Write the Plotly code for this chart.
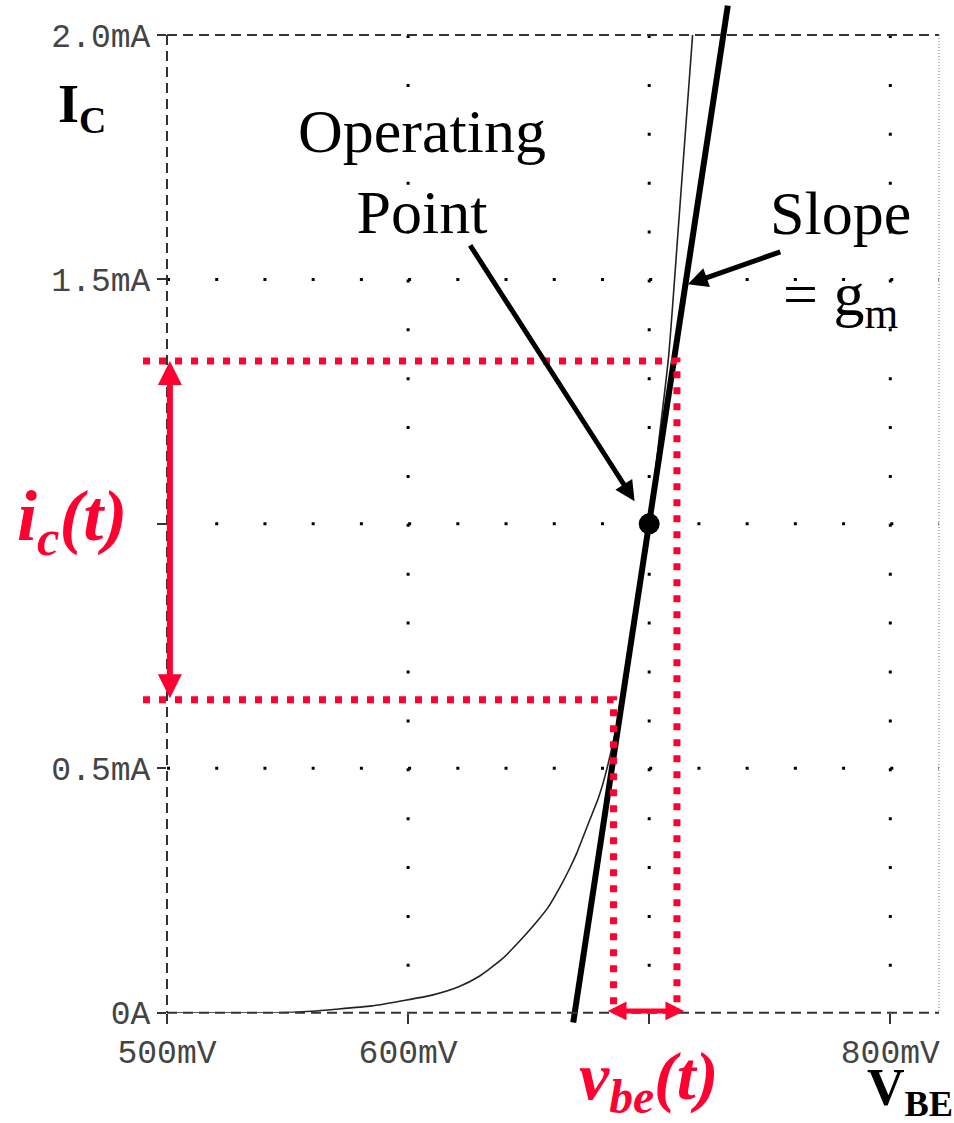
import plotly.graph_objects as go

# Collector current vs. base-emitter voltage of a BJT (simulated sweep)
vbe_mv = [500, 545, 560, 570, 585, 597, 610, 621, 629, 639, 646, 653, 658, 663, 667, 670,
          675, 679, 682, 687, 693, 700, 704, 708, 712, 715, 718]
ic_ma = [0, 0, 0.003, 0.007, 0.014, 0.024, 0.036, 0.053, 0.073, 0.11, 0.145, 0.184, 0.215,
         0.257, 0.295, 0.327, 0.39, 0.44, 0.49, 0.60, 0.76, 1.0, 1.17, 1.34, 1.6, 1.8, 2.0]

# Quiescent (operating) point
op_vbe = [700.0]
op_ic = [1.0]

# Tangent through the operating point (slope = gm)
tangent_vbe = [668.5, 732.6]
tangent_ic = [-0.02, 2.06]

# Small-signal swing around the operating point
ic_swing = [0.640, 1.333]
vbe_swing = [685.2, 711.5]

# Axis ticks
x_ticks = [500, 600, 700, 800]
x_labels = ["500mV", "600mV", "", "800mV"]
y_ticks = [0, 0.5, 1.0, 1.5, 2.0]
y_labels = ["0A", "0.5mA", "", "1.5mA", "2.0mA"]

# Dotted grid lines
grid_v = [600, 700, 800]
grid_i = [0.5, 1.0, 1.5]

W, H = 954, 1123
PL, PR, PT, PB = 167, 939, 35, 1012.7
X_RANGE = [500, 820.2]
Y_RANGE = [0, 2.0]
RED = "#ff0030"
MONO = "Liberation Mono"
SERIF = "Liberation Serif"

x_dom = [PL / W, PR / W]
y_dom = [1 - PB / H, 1 - PT / H]


def extend(rng, dom):
    span = (rng[1] - rng[0]) / (dom[1] - dom[0])
    return [rng[0] - dom[0] * span, rng[1] + (1 - dom[1]) * span]


def paper(px, py):
    return px / W, 1 - py / H


# pixel period of the grid dots
dot = 3
step_i = 0.1 / (Y_RANGE[1] - Y_RANGE[0]) * (PB - PT)
step_v = 20 / (X_RANGE[1] - X_RANGE[0]) * (PR - PL)

fig = go.Figure()

# I-V curve
fig.add_trace(go.Scatter(x=vbe_mv, y=ic_ma, mode="lines", line_shape="spline",
                         line=dict(color="#222", width=1.6, smoothing=0.6), xaxis="x", yaxis="y"))

# tangent line (on the full-canvas overlay so it may leave the frame)
fig.add_trace(go.Scatter(x=tangent_vbe, y=tangent_ic, mode="lines",
                         line=dict(color="black", width=6), xaxis="x2", yaxis="y2"))

# operating point
fig.add_trace(go.Scatter(x=op_vbe, y=op_ic, mode="markers",
                         marker=dict(color="black", size=21), xaxis="x", yaxis="y"))

# red dotted swing guides, starting a little left of the frame
red_dash = "7px,9px"
guide_start = X_RANGE[0] - (PL - 143) / (PR - PL) * (X_RANGE[1] - X_RANGE[0])
fig.add_trace(go.Scatter(x=[guide_start, vbe_swing[1], vbe_swing[1]],
                         y=[ic_swing[1], ic_swing[1], 0], mode="lines",
                         line=dict(color=RED, width=7, dash=red_dash),
                         xaxis="x2", yaxis="y2"))
fig.add_trace(go.Scatter(x=[guide_start, vbe_swing[0], vbe_swing[0]],
                         y=[ic_swing[0], ic_swing[0], 0], mode="lines",
                         line=dict(color=RED, width=7, dash=red_dash),
                         xaxis="x2", yaxis="y2"))

shapes = []
# dotted grid
for v in grid_v:
    shapes.append(dict(type="line", xref="x", yref="y", x0=v, x1=v, y0=Y_RANGE[1], y1=Y_RANGE[0],
                       line=dict(color="black", width=dot, dash=f"{dot}px,{step_i - dot:.3f}px"),
                       layer="below"))
for i in grid_i:
    shapes.append(dict(type="line", xref="x", yref="y", x0=X_RANGE[0], x1=X_RANGE[1], y0=i, y1=i,
                       line=dict(color="black", width=dot, dash=f"{dot}px,{step_v - dot:.3f}px"),
                       layer="below"))
# dashed frame
frame = dict(color="#333", width=2, dash="10px,6px")
shapes.append(dict(type="line", xref="x domain", yref="y domain", x0=0, x1=0, y0=1, y1=0, line=frame))
shapes.append(dict(type="line", xref="x domain", yref="y domain", x0=0, x1=1, y0=1, y1=1, line=frame))
shapes.append(dict(type="line", xref="x domain", yref="y domain", x0=0, x1=1, y0=0, y1=0, line=frame))
shapes.append(dict(type="line", xref="x domain", yref="y domain", x0=1, x1=1, y0=1, y1=0,
                   line=dict(color="#777", width=1, dash="1px,2px")))

annotations = []
# arrows
annotations.append(dict(xref="x", yref="y", x=op_vbe[0], y=op_ic[0], ax=-180, ay=-280,
                        text="", showarrow=True, arrowhead=2, arrowwidth=5, arrowsize=0.8,
                        arrowcolor="black", standoff=27))
annotations.append(dict(xref="x", yref="y", x=716, y=1.49, ax=94, ay=-33,
                        text="", showarrow=True, arrowhead=2, arrowwidth=5, arrowsize=0.8,
                        arrowcolor="black", standoff=0))
annotations.append(dict(xref="x2", yref="y2", axref="x2", ayref="y2",
                        x=501.2, y=ic_swing[1], ax=501.2, ay=ic_swing[0],
                        text="", showarrow=True, arrowside="end+start",
                        arrowhead=2, startarrowhead=2, arrowwidth=6,
                        arrowsize=0.8, startarrowsize=0.8, arrowcolor=RED, standoff=0, startstandoff=0))
annotations.append(dict(xref="x2", yref="y2", axref="x2", ayref="y2",
                        x=vbe_swing[1] + 3, y=0.0035, ax=vbe_swing[0] - 3, ay=0.0035,
                        text="", showarrow=True, arrowside="end+start",
                        arrowhead=2, startarrowhead=2, arrowwidth=5,
                        arrowsize=0.75, startarrowsize=0.75, arrowcolor=RED, standoff=0, startstandoff=0))


def label(text, px, py, size, color="black", xanchor="center"):
    x, y = paper(px, py)
    annotations.append(dict(xref="paper", yref="paper", x=x, y=y, text=text, showarrow=False,
                            xanchor=xanchor, yanchor="middle",
                            font=dict(family=SERIF, size=size, color=color)))


label("<b>I<sub>C</sub></b>", 82, 108, 54)
label("Operating<br>Point", 422, 172, 62)
label("Slope<br>= g<sub>m</sub>", 840, 258, 62)
label("<b><i>i<sub>c</sub>(t)</i></b>", 72, 521, 72, RED)
label("<b><i>v<sub>be</sub>(t)</i></b>", 648, 1080, 68, RED)
label("<b>V<sub>BE</sub></b>", 910, 1091, 52)

tickfont = dict(family=MONO, size=33, color="#444")
fig.update_layout(
    width=W, height=H, autosize=False,
    margin=dict(l=0, r=0, t=0, b=0, autoexpand=False),
    paper_bgcolor="white", plot_bgcolor="rgba(0,0,0,0)",
    showlegend=False,
    xaxis=dict(domain=x_dom, range=X_RANGE, tickmode="array", tickvals=x_ticks, ticktext=x_labels,
               ticks="outside", ticklen=10, tickwidth=2, tickcolor="#333", tickfont=tickfont,
               showgrid=False, zeroline=False, showline=False, anchor="y", automargin=False),
    yaxis=dict(domain=y_dom, range=Y_RANGE, tickmode="array", tickvals=y_ticks, ticktext=y_labels,
               ticks="outside", ticklen=9, tickwidth=2, tickcolor="#333", tickfont=tickfont,
               showgrid=False, zeroline=False, showline=False, anchor="x", automargin=False),
    xaxis2=dict(domain=[0, 1], range=extend(X_RANGE, x_dom), visible=False, anchor="y2",
                automargin=False),
    yaxis2=dict(domain=[0, 1], range=extend(Y_RANGE, y_dom), visible=False, anchor="x2",
                automargin=False),
    shapes=shapes, annotations=annotations,
)

fig.write_html("out.html")
